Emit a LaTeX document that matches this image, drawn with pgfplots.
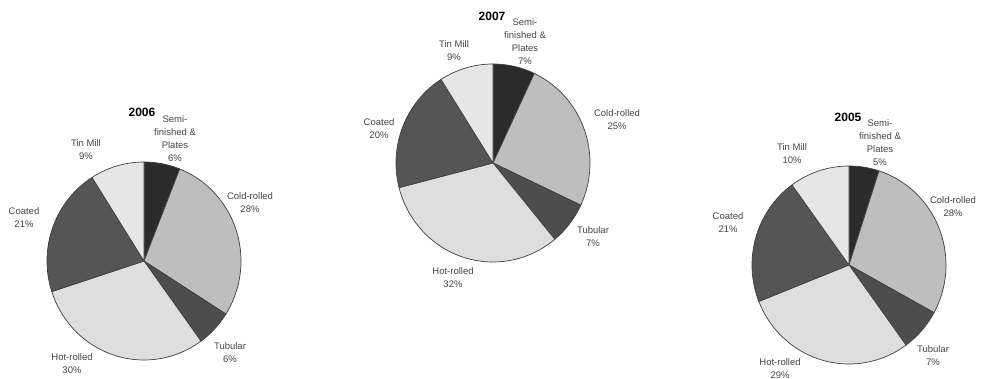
\documentclass[border=0pt]{standalone}
\usepackage{pgfplots}
\pgfplotsset{compat=1.18}
\usepackage{fontspec}
\setmainfont{Liberation Sans}
\definecolor{csemi}{HTML}{2B2B2B}
\definecolor{ccold}{HTML}{BEBEBE}
\definecolor{ctub}{HTML}{4D4D4D}
\definecolor{chot}{HTML}{DEDEDE}
\definecolor{ccoat}{HTML}{555555}
\definecolor{ctin}{HTML}{E6E6E6}
\definecolor{ctext}{HTML}{444444}
\tikzset{lab/.style={text=ctext, align=center, inner sep=0pt, font=\fontsize{9.5bp}{13bp}\selectfont},
  ttl/.style={text=black, inner sep=0pt, font=\bfseries\fontsize{12bp}{14bp}\selectfont}}
\def\Rx{97}\def\Ry{99}
% one slice: centre x, centre y, start %, end % (clockwise from 12 o'clock), colour
\newcommand\slice[5]{%
  \pgfmathsetmacro\sa{90-3.6*(#3)}\pgfmathsetmacro\sb{90-3.6*(#4)}%
  \edef\tmp{\noexpand\addplot[draw=black!75, line width=0.7bp, fill=#5, domain=\sb:\sa, samples=60, variable=\noexpand\t]
    ({#1+\Rx*cos(\noexpand\t)},{#2+\Ry*sin(\noexpand\t)}) -- (axis cs:#1,#2) -- cycle;}%
  \tmp}
% pie: cx, cy, semi, cold, tubular, hot, coated, tin (percent)
\newcommand\pie[8]{%
  \pgfmathsetmacro\ca{#3}\pgfmathsetmacro\cb{\ca+#4}\pgfmathsetmacro\cc{\cb+#5}%
  \pgfmathsetmacro\cd{\cc+#6}\pgfmathsetmacro\ce{\cd+#7}\pgfmathsetmacro\cf{\ce+#8}%
  \slice{#1}{#2}{0}{\ca}{csemi}%
  \slice{#1}{#2}{\ca}{\cb}{ccold}%
  \slice{#1}{#2}{\cb}{\cc}{ctub}%
  \slice{#1}{#2}{\cc}{\cd}{chot}%
  \slice{#1}{#2}{\cd}{\ce}{ccoat}%
  \slice{#1}{#2}{\ce}{\cf}{ctin}}
\begin{document}
\begin{tikzpicture}[x=1bp,y=1bp]
\begin{axis}[scale only axis, width=981bp, height=379bp,
  xmin=0, xmax=981, ymin=0, ymax=379, hide axis, clip=false]
% 2006
\pie{144}{118}{6}{28}{6}{30}{21}{9}
% 2007
\pie{493}{216}{7}{25}{7}{32}{20}{9}
% 2005
\pie{849}{114}{5}{28}{7}{29}{21}{10}
% titles
\node[ttl] at (axis cs:142,267) {2006};
\node[ttl] at (axis cs:492,363) {2007};
\node[ttl] at (axis cs:848,262) {2005};
% 2006 labels
\node[lab] at (axis cs:175,240) {Semi-\\finished \&\\Plates\\6\%};
\node[lab] at (axis cs:250,176) {Cold-rolled\\28\%};
\node[lab] at (axis cs:230,26) {Tubular\\6\%};
\node[lab] at (axis cs:72,15) {Hot-rolled\\30\%};
\node[lab] at (axis cs:24,161) {Coated\\21\%};
\node[lab] at (axis cs:86,229) {Tin Mill\\9\%};
% 2007 labels
\node[lab] at (axis cs:525,337) {Semi-\\finished \&\\Plates\\7\%};
\node[lab] at (axis cs:617,259) {Cold-rolled\\25\%};
\node[lab] at (axis cs:593,142) {Tubular\\7\%};
\node[lab] at (axis cs:453,101) {Hot-rolled\\32\%};
\node[lab] at (axis cs:379,250) {Coated\\20\%};
\node[lab] at (axis cs:454,328) {Tin Mill\\9\%};
% 2005 labels
\node[lab] at (axis cs:880,236) {Semi-\\finished \&\\Plates\\5\%};
\node[lab] at (axis cs:953,172) {Cold-rolled\\28\%};
\node[lab] at (axis cs:933,23) {Tubular\\7\%};
\node[lab] at (axis cs:780,10) {Hot-rolled\\29\%};
\node[lab] at (axis cs:728,156) {Coated\\21\%};
\node[lab] at (axis cs:792,225) {Tin Mill\\10\%};
\end{axis}
\pgfresetboundingbox
\path[use as bounding box] (0,0) rectangle (981bp,379bp);
\end{tikzpicture}
\end{document}
